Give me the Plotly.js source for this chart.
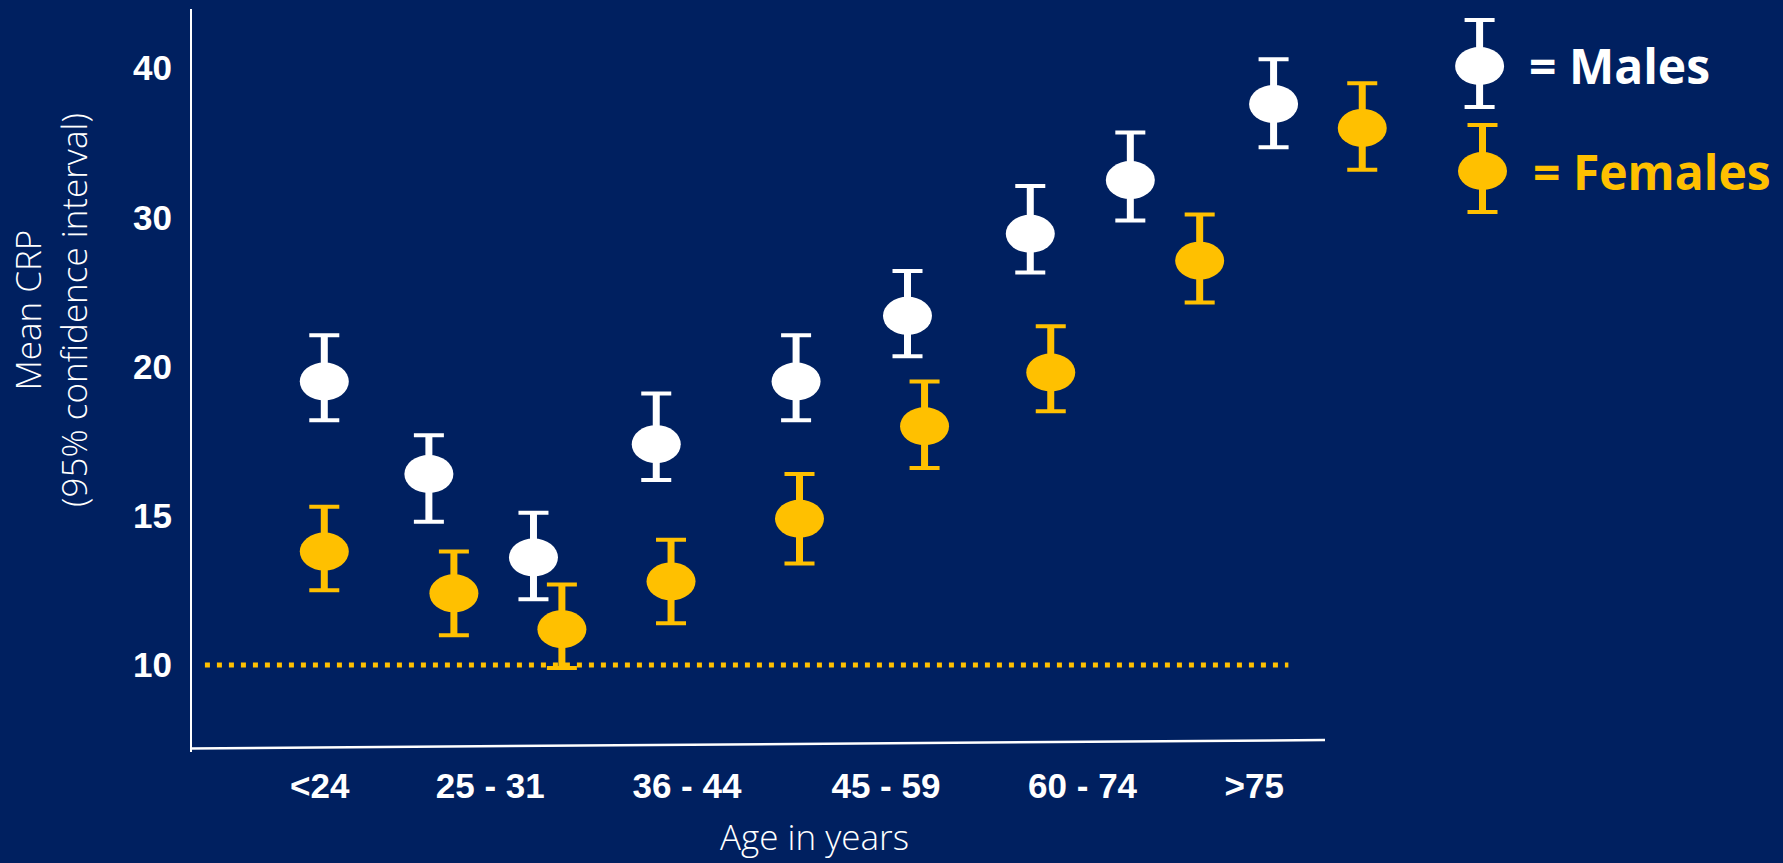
<!DOCTYPE html>
<html>
<head>
<meta charset="utf-8">
<script src="https://cdn.plot.ly/plotly-3.0.1.min.js"></script>
<style>
  html, body { margin: 0; padding: 0; background: #002060; }
  #chart { width: 1783px; height: 863px; }
</style>
</head>
<body>
<div id="chart"></div>
<script>
// Age groups shown on the x axis and where their labels sit along it
const ageLabels = ['<24', '25 - 31', '36 - 44', '45 - 59', '60 - 74', '>75'];
const labelPos = [1.15, 2.65, 4.38, 6.13, 7.86, 9.37];

// Horizontal position of each estimate along the age axis
const malePos = [1.19, 2.11, 3.03, 4.11, 5.34, 6.32, 7.40, 8.28, 9.54];
const femalePos = [1.19, 2.33, 3.28, 4.24, 5.37, 6.47, 7.58, 8.89, 10.32];

// Mean CRP with lower / upper 95% confidence limits
const maleMean = [19.5, 16.4, 13.6, 17.4, 19.5, 23.4, 28.9, 32.5, 37.6];
const maleLow  = [18.2, 14.8, 12.2, 16.2, 18.2, 20.7, 26.3, 29.8, 34.7];
const maleHigh = [22.1, 17.7, 15.1, 19.1, 22.1, 26.4, 32.1, 35.7, 40.6];

const femaleMean = [13.8, 12.4, 11.2, 12.8, 14.9, 18.0, 19.8, 27.1, 36.0];
const femaleLow  = [12.5, 11.0,  9.9, 11.4, 13.4, 16.6, 18.5, 24.3, 33.2];
const femaleHigh = [15.3, 13.8, 12.7, 14.2, 16.4, 19.5, 22.7, 30.2, 39.0];

// CRP axis break points, evenly spaced on the page
const crpTicks = [10, 15, 20, 30, 40];
const referenceLevel = 10;

const WHITE = '#FFFFFF';
const GOLD = '#FFC000';
const NAVY = '#002060';

// Piecewise-linear CRP scale: each break point is one axis step apart
function toAxis(v) {
  for (let i = 0; i < crpTicks.length - 1; i++) {
    const a = crpTicks[i], b = crpTicks[i + 1];
    if (v <= b || i === crpTicks.length - 2) return i + (v - a) / (b - a);
  }
}

const traces = [];
const shapes = [];

function addGroup(pos, mean, low, high, color, name, xa, ya, yMap) {
  const y = mean.map(yMap);
  const up = high.map((h, i) => Math.abs(yMap(h) - y[i]));
  const dn = low.map((l, i) => Math.abs(y[i] - yMap(l)));
  // thick stems
  traces.push({
    type: 'scatter', mode: 'markers', x: pos, y: y, xaxis: xa, yaxis: ya,
    marker: { size: 1, color: color },
    error_y: { type: 'data', symmetric: false, array: up, arrayminus: dn,
               color: color, thickness: 7, width: 0 },
    showlegend: false, hoverinfo: 'skip'
  });
  // caps
  traces.push({
    type: 'scatter', mode: 'markers', name: name, x: pos, y: y, xaxis: xa, yaxis: ya,
    marker: { size: 36, color: color },
    error_y: { type: 'data', symmetric: false, array: up, arrayminus: dn,
               color: color, thickness: 4, width: 15 },
    showlegend: false
  });
  // oval point markers
  pos.forEach((px, i) => {
    shapes.push({
      type: 'circle', xref: xa, yref: ya,
      xsizemode: 'pixel', ysizemode: 'pixel',
      xanchor: px, yanchor: y[i],
      x0: -24.5, x1: 24.5, y0: -19, y1: 19,
      fillcolor: color, line: { width: 0 }, layer: 'above'
    });
  });
}

addGroup(malePos, maleMean, maleLow, maleHigh, WHITE, 'Males', 'x', 'y', toAxis);
addGroup(femalePos, femaleMean, femaleLow, femaleHigh, GOLD, 'Females', 'x', 'y', toAxis);

// Key symbols beside the legend text (key axis measured in page pixels)
const ident = v => v;
addGroup([1479.6], [66], [20], [107], WHITE, 'Males key', 'x2', 'y2', ident);
addGroup([1482.5], [171], [125], [212], GOLD, 'Females key', 'x2', 'y2', ident);

// Reference line at CRP = 10
shapes.push({
  type: 'line', xref: 'x', yref: 'y',
  x0: 0.14, x1: 9.67, y0: toAxis(referenceLevel), y1: toAxis(referenceLevel),
  line: { color: GOLD, width: 5, dash: '5px,7px' }, layer: 'below'
});

// Axis lines
const W = 1783 - 189 - 20;
const H = 863 - 9 - 113;
const px = v => (v - 189) / W;
const py = v => (750 - v) / H;
shapes.push({ type: 'line', xref: 'paper', yref: 'paper',
  x0: px(191), x1: px(191), y0: py(752), y1: py(9),
  line: { color: WHITE, width: 2 } });
shapes.push({ type: 'line', xref: 'paper', yref: 'paper',
  x0: px(190), x1: px(1325), y0: py(748.5), y1: py(740),
  line: { color: WHITE, width: 2.5 } });

const tickFont = { family: 'Liberation Sans, Arial, sans-serif', size: 35, color: WHITE, weight: 700 };
const titleFont = { family: 'Open Sans, sans-serif', size: 35, color: WHITE, weight: 300 };
const keyFont = { family: 'Open Sans, sans-serif', size: 48, weight: 700 };

const layout = {
  width: 1783, height: 863,
  paper_bgcolor: NAVY, plot_bgcolor: NAVY,
  margin: { l: 189, r: 20, t: 9, b: 113 },
  showlegend: false,
  xaxis: {
    domain: [0, 1221 / W], range: [0, 10.74],
    showgrid: false, zeroline: false, showline: false,
    tickmode: 'array', tickvals: labelPos, ticktext: ageLabels,
    ticks: '', tickfont: tickFont, ticklabelstandoff: 12, fixedrange: true
  },
  yaxis: {
    domain: [0, 1], range: [toAxis(10) - 0.570, toAxis(10) + 4.397],
    showgrid: false, zeroline: false, showline: false,
    tickmode: 'array', tickvals: crpTicks.map(toAxis), ticktext: crpTicks.map(String),
    ticks: '', tickfont: tickFont, ticklabelstandoff: 16, fixedrange: true
  },
  xaxis2: {
    domain: [px(1440), px(1530)], range: [1440, 1530], anchor: 'y2',
    visible: false, fixedrange: true
  },
  yaxis2: {
    domain: [0, 1], range: [750, 9], anchor: 'x2',
    visible: false, fixedrange: true
  },
  shapes: shapes,
  annotations: [
    { xref: 'paper', yref: 'paper', x: px(814), y: py(836), xanchor: 'center', yanchor: 'middle',
      text: 'Age in years', showarrow: false, font: titleFont },
    { xref: 'paper', yref: 'paper', x: px(51), y: py(310), xanchor: 'center', yanchor: 'middle',
      text: 'Mean CRP<br>(95% confidence interval)', textangle: -90, showarrow: false, font: titleFont },
    { xref: 'paper', yref: 'paper', x: px(1527), y: py(66), xanchor: 'left', yanchor: 'middle',
      text: '= Males', showarrow: false, font: Object.assign({ color: WHITE }, keyFont) },
    { xref: 'paper', yref: 'paper', x: px(1531), y: py(172), xanchor: 'left', yanchor: 'middle',
      text: '= Females', showarrow: false, font: Object.assign({ color: GOLD }, keyFont) }
  ]
};

Plotly.newPlot('chart', traces, layout, { staticPlot: true, displayModeBar: false });
</script>
</body>
</html>
